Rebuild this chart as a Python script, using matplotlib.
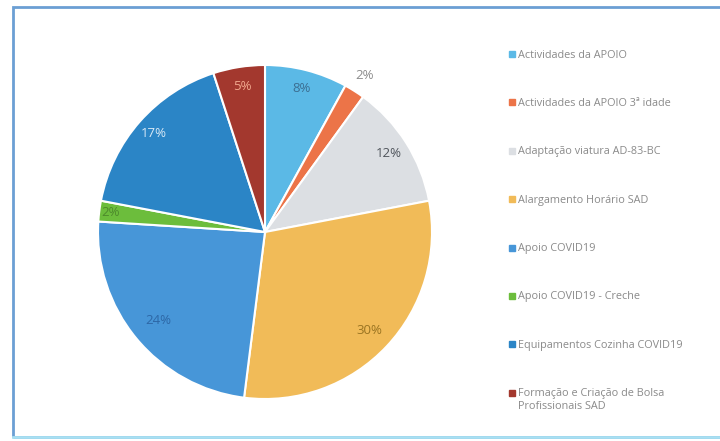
import numpy as np
import matplotlib
matplotlib.use('Agg')
import matplotlib.pyplot as plt
from matplotlib.lines import Line2D
from matplotlib.patches import Rectangle

#######################################################################################################
# data
#######################################################################################################
categories = ['Actividades da APOIO', 'Actividades da APOIO 3ª idade', 'Adaptação viatura AD-83-BC',
              'Alargamento Horário SAD', 'Apoio COVID19', 'Apoio COVID19 - Creche',
              'Equipamentos Cozinha COVID19', 'Formação e Criação de Bolsa\nProfissionais SAD']
shares = [8, 2, 12, 30, 24, 2, 17, 5]

slice_colors = ['#5bb9e6', '#ec7448', '#dcdfe3', '#f1bb58', '#4796d8', '#6cbd3c', '#2b85c6', '#a3382e']
label_colors = ['#3c6f92', '#8c8c8c', '#50555c', '#9a7422', '#2d67a6', '#4d8a2c', '#d8e9f6', '#f2a88e']
label_radius = [0.89, 1.11, 0.88, 0.86, 0.83, 0.93, 0.89, 0.88]

plt.rcParams['font.family'] = ['Open Sans', 'DejaVu Sans']

W, H = 720, 441
fig = plt.figure(figsize=(W / 100, H / 100), dpi=100)
fig.patch.set_facecolor('white')

# pie axes: square area, centre ~ (265, 232) px, radius ~167 px
ax = fig.add_axes([98 / W, 42 / H, 334 / W, 334 / H])
wedges, _ = ax.pie(shares, colors=slice_colors, startangle=90, counterclock=False, radius=1.0,
                   wedgeprops=dict(edgecolor='white', linewidth=1.5))
ax.set_xlim(-1, 1)
ax.set_ylim(-1, 1)
ax.axis('off')

# percentage labels
for w, val, rr, c in zip(wedges, shares, label_radius, label_colors):
    ang = np.deg2rad((w.theta1 + w.theta2) / 2)
    ax.text(rr * np.cos(ang), rr * np.sin(ang), '{}%'.format(val), ha='center', va='center',
            fontsize=9.5, color=c)

# legend (drawn by hand so the marker sits on the first line of a wrapped label)
y0, step = 54, 48.4
for i, (lab, c) in enumerate(zip(categories, slice_colors)):
    yy = 1 - (y0 + i * step) / H
    fig.add_artist(Line2D([512 / W], [yy], transform=fig.transFigure, marker='s', markersize=4,
                          linestyle='none', markerfacecolor=c, markeredgecolor=c))
    fig.text(518 / W, yy + 4.5 / H, lab, ha='left', va='top', fontsize=7.8, color='#8a8a8a',
             linespacing=1.25)

# outer frame
fig.add_artist(Rectangle((13 / W, 4 / H), 1.0, 430 / H, transform=fig.transFigure,
                         fill=False, edgecolor='#6b9fd4', linewidth=2.0))
fig.add_artist(Line2D([13 / W, 1.0], [4 / H, 4 / H], transform=fig.transFigure,
                      color='#a9e0f2', linewidth=2.0))

plt.savefig('out.png', dpi=100)
